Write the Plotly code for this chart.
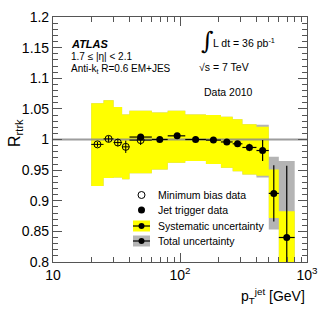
import plotly.graph_objects as go
import numpy as np

# ---------------- data ----------------
bin_lo = [20, 25, 30, 35, 40, 60, 80, 110, 160, 210, 260, 310, 400, 500, 600]
bin_hi = [25, 30, 35, 40, 60, 80, 110, 160, 210, 260, 310, 400, 500, 600, 800]
sys_hi = [1.059, 1.064, 1.053, 1.041, 1.047, 1.044, 1.047, 1.041, 1.040, 1.037, 1.033, 1.025, 1.021, 0.951, 0.883]
sys_lo = [0.924, 0.937, 0.938, 0.935, 0.945, 0.951, 0.962, 0.965, 0.960, 0.954, 0.948, 0.943, 0.941, 0.872, 0.760]
tot_hi = [1.059, 1.064, 1.053, 1.041, 1.047, 1.044, 1.047, 1.041, 1.040, 1.037, 1.033, 1.025, 1.024, 0.972, 0.965]
tot_lo = [0.924, 0.937, 0.938, 0.935, 0.945, 0.951, 0.962, 0.965, 0.960, 0.954, 0.948, 0.943, 0.938, 0.853, 0.740]

# minimum bias data (first five bins)
mb_pt = [22.4, 27.4, 32.4, 37.4, 49.0]
mb_lo = [20, 25, 30, 35, 40]
mb_hi = [25, 30, 35, 40, 60]
mb_r = [0.992, 1.001, 0.995, 0.988, 0.999]
mb_err = [0.004, 0.005, 0.006, 0.010, 0.008]

# jet trigger data
jt_pt = [49.0, 69.3, 95.0, 132.7, 183.3, 233.7, 283.9, 352.1, 447.2, 547.7, 692.8]
jt_lo = [40, 60, 80, 110, 160, 210, 260, 310, 400, 500, 600]
jt_hi = [60, 80, 110, 160, 210, 260, 310, 400, 500, 600, 800]
jt_r = [1.004, 1.000, 1.006, 1.000, 0.999, 0.996, 0.993, 0.987, 0.982, 0.912, 0.840]
jt_err = [0.002, 0.002, 0.003, 0.003, 0.003, 0.003, 0.004, 0.006, 0.017, 0.046, 0.117]

x_tickvals = [10, 100, 1000]
x_ticktext = ["10", "10<sup>2</sup>", "10<sup>3</sup>"]
y_tickvals = [0.8, 0.85, 0.9, 0.95, 1.0, 1.05, 1.1, 1.15, 1.2]
y_ticktext = ["0.8", "0.85", "0.9", "0.95", "1", "1.05", "1.1", "1.15", "1.2"]

FONT = "Liberation Sans, Arial, Helvetica, sans-serif"
YELLOW = "#ffff00"
GREY = "#b4b4b4"


def band(lo, hi, b, t):
    xs, ys = [], []
    for a, c, d, e in zip(lo, hi, b, t):
        xs += [a, c, c, a, a, None]
        ys += [d, d, e, e, d, None]
    return xs, ys


fig = go.Figure()

gx, gy = band(bin_lo, bin_hi, tot_lo, tot_hi)
fig.add_trace(go.Scatter(x=gx, y=gy, mode="lines", fill="toself", fillcolor=GREY,
                         line=dict(width=0), hoverinfo="skip", showlegend=False))
yx, yy = band(bin_lo, bin_hi, sys_lo, sys_hi)
fig.add_trace(go.Scatter(x=yx, y=yy, mode="lines", fill="toself", fillcolor=YELLOW,
                         line=dict(width=0), hoverinfo="skip", showlegend=False))

# reference line at 1
fig.add_trace(go.Scatter(x=[10, 1000], y=[1, 1], mode="lines",
                         line=dict(color="rgba(140,140,140,0.85)", width=2),
                         hoverinfo="skip", showlegend=False))

mb_pt_a = np.array(mb_pt)
fig.add_trace(go.Scatter(
    x=mb_pt, y=mb_r, mode="markers",
    marker=dict(symbol="circle-open", size=7, color="black", line=dict(width=1)),
    error_y=dict(type="data", array=mb_err, color="black", thickness=1, width=0),
    error_x=dict(type="data", symmetric=False,
                 array=list(np.array(mb_hi) - mb_pt_a),
                 arrayminus=list(mb_pt_a - np.array(mb_lo)),
                 color="black", thickness=1, width=0),
    showlegend=False))

jt_pt_a = np.array(jt_pt)
fig.add_trace(go.Scatter(
    x=jt_pt, y=jt_r, mode="markers",
    marker=dict(symbol="circle", size=7, color="black"),
    error_y=dict(type="data", array=jt_err, color="black", thickness=1.2, width=0),
    error_x=dict(type="data", symmetric=False,
                 array=list(np.array(jt_hi) - jt_pt_a),
                 arrayminus=list(jt_pt_a - np.array(jt_lo)),
                 color="black", thickness=1.2, width=0),
    showlegend=False))

# ---------- manual legend on an overlay axis in paper-like units ----------
W, H = 324, 312
L, R, T, B = 53, 17, 17, 50
pw, ph = W - L - R, H - T - B


def px(x):
    return (x - L) / pw


def py(y):
    return (H - B - y) / ph


lg_x = px(141.5)
rows = [195, 210, 226, 241]
fig.add_trace(go.Scatter(x=[lg_x], y=[py(rows[0])], xaxis="x2", yaxis="y2", mode="markers",
                         marker=dict(symbol="circle-open", size=7, color="black", line=dict(width=1)),
                         showlegend=False, hoverinfo="skip"))
fig.add_trace(go.Scatter(x=[lg_x], y=[py(rows[1])], xaxis="x2", yaxis="y2", mode="markers",
                         marker=dict(symbol="circle", size=7, color="black"),
                         showlegend=False, hoverinfo="skip"))
for yrow, col in [(rows[2], YELLOW), (rows[3], GREY)]:
    fig.add_shape(type="rect", xref="x2", yref="y2",
                  x0=px(133), x1=px(150), y0=py(yrow - 5.5), y1=py(yrow + 5.5),
                  fillcolor=col, line=dict(width=0), layer="below")
    fig.add_trace(go.Scatter(x=[px(133), px(150)], y=[py(yrow), py(yrow)], xaxis="x2", yaxis="y2",
                             mode="lines", line=dict(color="black", width=1.2),
                             showlegend=False, hoverinfo="skip"))
    fig.add_trace(go.Scatter(x=[lg_x], y=[py(yrow)], xaxis="x2", yaxis="y2", mode="markers",
                             marker=dict(symbol="circle", size=6, color="black"),
                             showlegend=False, hoverinfo="skip"))

leg_text = ["Minimum bias data", "Jet trigger data", "Systematic uncertainty", "Total uncertainty"]
annotations = []
for yrow, t in zip(rows, leg_text):
    annotations.append(dict(x=px(156), y=py(yrow), xref="paper", yref="paper", text=t,
                            showarrow=False, xanchor="left", yanchor="middle",
                            font=dict(size=10.5, family=FONT, color="black")))

annotations += [
    dict(x=px(69), y=py(44), text="<b><i>ATLAS</i></b>", xanchor="left", yanchor="middle",
         font=dict(size=11, family=FONT)),
    dict(x=px(69), y=py(56), text="1.7 ≤ |η| < 2.1", xanchor="left", yanchor="middle",
         font=dict(size=10, family=FONT)),
    dict(x=px(69), y=py(69), text="Anti-k<sub>t</sub> R=0.6 EM+JES", xanchor="left", yanchor="middle",
         font=dict(size=10, family=FONT)),
    dict(x=px(199), y=py(41), text="∫", xanchor="left", yanchor="middle",
         font=dict(size=24, family="DejaVu Serif")),
    dict(x=px(211), y=py(42), text="L dt = 36 pb<sup>-1</sup>", xanchor="left", yanchor="middle",
         font=dict(size=10.5, family=FONT)),
    dict(x=px(197), y=py(67), text="√s = 7 TeV", xanchor="left", yanchor="middle",
         font=dict(size=10.5, family=FONT)),
    dict(x=px(202), y=py(92), text="Data 2010", xanchor="left", yanchor="middle",
         font=dict(size=10.5, family=FONT)),
    dict(x=px(307), y=py(296), text="p<sub>T</sub><sup>jet</sup> [GeV]", xanchor="right", yanchor="middle",
         font=dict(size=14, family=FONT)),
    dict(x=px(15), y=py(133), text="R<sub>rtrk</sub>", textangle=-90, xanchor="center", yanchor="middle",
         font=dict(size=16, family=FONT)),
]
for a in annotations:
    a.setdefault("xref", "paper")
    a.setdefault("yref", "paper")
    a.setdefault("showarrow", False)
    a["font"].setdefault("color", "black")

x_minor = [v * m for v in (10, 100) for m in range(2, 10)]
y_minor = [round(0.8 + 0.01 * i, 3) for i in range(41)]

fig.update_layout(
    width=W, height=H,
    margin=dict(l=L, r=R, t=T, b=B, autoexpand=False),
    paper_bgcolor="white", plot_bgcolor="white",
    font=dict(family=FONT, size=14, color="black"),
    annotations=annotations,
    xaxis=dict(type="log", range=[1, 3], tickvals=x_tickvals, ticktext=x_ticktext,
               ticks="inside", ticklen=9, tickcolor="#555", tickwidth=1, automargin=False,
               showline=True, linecolor="#555", linewidth=1.2, mirror="ticks",
               showgrid=False, zeroline=False, tickfont=dict(size=14),
               minor=dict(tickvals=x_minor, ticks="inside", ticklen=5, tickcolor="#555", showgrid=False)),
    yaxis=dict(range=[0.8, 1.2], tickvals=y_tickvals, ticktext=y_ticktext,
               ticks="inside", ticklen=9, tickcolor="#555", tickwidth=1, automargin=False,
               showline=True, linecolor="#555", linewidth=1.2, mirror="ticks",
               showgrid=False, zeroline=False, tickfont=dict(size=14),
               minor=dict(tickvals=y_minor, ticks="inside", ticklen=5, tickcolor="#555", showgrid=False)),
    xaxis2=dict(range=[0, 1], overlaying="x", visible=False, fixedrange=True),
    yaxis2=dict(range=[0, 1], overlaying="y", visible=False, fixedrange=True),
)

fig.write_html("out.html", config={"displayModeBar": False},
               post_script="document.body.style.margin='0px';")
